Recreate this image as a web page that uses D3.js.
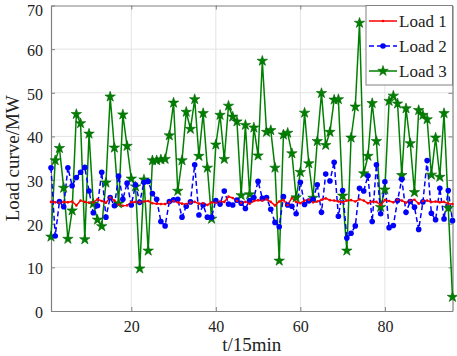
<!DOCTYPE html>
<html>
<head>
<meta charset="utf-8">
<script src="https://cdn.jsdelivr.net/npm/d3@7"></script>
<style>
  body { margin: 0; background: #fff; }
  svg text { font-family: "Liberation Serif", "Times New Roman", serif; fill: #222; }
</style>
</head>
<body>
<div id="chart"></div>
<script>
// chart values
var seriesNames = ["Load 1", "Load 2", "Load 3"];
var xTicks = [20, 40, 60, 80];
var yTicks = [0, 10, 20, 30, 40, 50, 60, 70];

var load1 = [25.0,24.9,24.8,25.0,24.9,25.1,24.2,25.3,25.0,24.8,24.9,25.6,25.2,24.8,26.0,25.3,
  24.4,24.1,24.2,24.9,25.0,24.9,25.1,25.2,24.7,24.6,24.5,24.5,24.9,25.2,24.9,24.6,
  24.5,24.9,25.0,24.6,24.7,24.3,24.9,24.8,25.1,25.0,26.2,25.9,25.2,24.8,25.0,24.6,
  25.2,25.4,25.3,25.6,25.0,24.2,25.1,25.4,24.3,25.9,25.0,24.7,25.3,25.5,24.9,25.1,
  25.5,25.8,25.4,25.3,25.1,24.9,25.3,25.4,25.1,25.6,25.3,24.7,25.1,25.0,24.3,25.4,
  25.2,24.9,25.5,25.3,24.8,25.3,25.5,24.6,25.2,25.3,25.0,25.1,24.9,25.0,24.6,24.5];

var load2 = [32.8,17.2,25.1,23.9,32.8,28.7,30.6,31.8,32.9,27.5,22.5,24.1,31.8,21.5,26.0,24.1,
  30.9,25.6,29.3,24.3,28.9,24.9,29.5,29.7,26.9,25.6,20.5,19.5,25.1,25.5,25.6,21.5,
  24.0,25.0,33.5,22.0,24.3,21.5,21.5,25.3,24.5,27.5,24.5,24.3,25.4,24.7,23.5,25.3,
  26.0,29.7,25.8,26.0,23.3,20.3,19.3,26.2,24.3,24.0,22.3,29.5,24.4,25.2,25.6,28.9,
  22.6,31.4,29.8,34.1,21.7,27.6,16.7,17.8,19.5,28.1,27.5,31.0,20.5,33.5,22.3,29.6,
  19.1,19.6,25.3,30.2,22.6,25.1,23.8,18.7,25.0,34.5,22.4,20.9,28.1,21.1,27.6,20.7];

var load3 = [17.0,34.5,37.3,28.2,16.5,23.0,45.1,43.0,16.4,40.6,24.6,20.9,19.4,29.4,49.1,37.4,
  24.6,45.0,37.8,30.3,28.5,9.7,30.1,13.8,34.5,34.5,34.7,34.8,40.2,47.7,27.5,34.5,
  45.6,41.7,48.5,35.5,45.3,32.8,21.1,38.1,44.9,34.8,47.0,44.5,43.4,26.5,42.6,26.7,
  42.0,35.6,57.3,41.0,41.4,32.8,11.5,40.4,40.8,36.1,26.0,31.8,45.4,33.8,25.9,38.9,
  49.9,38.0,41.0,48.4,48.5,26.4,13.8,39.7,46.8,66.0,31.5,35.5,47.6,38.9,23.8,27.8,
  48.1,49.3,47.5,31.1,46.4,38.4,27.2,46.0,44.9,43.9,31.2,39.7,30.7,45.3,23.6,3.2];

var t = d3.range(1, 97);

var margin = { top: 5.5, right: 4.5, bottom: 45, left: 51 };
var W = 457, H = 356;
var width = W - margin.left - margin.right,
    height = H - margin.top - margin.bottom;

var svg = d3.select("#chart").append("svg")
    .attr("width", W)
    .attr("height", H);
var g = svg.append("g")
    .attr("transform", "translate(" + margin.left + "," + margin.top + ")");

var x = d3.scaleLinear().domain([1, 96]).range([0, width]);
var y = d3.scaleLinear().domain([0, 70]).range([height, 0]);

// grid
g.append("g").selectAll("line").data(xTicks).enter().append("line")
    .attr("x1", d => x(d)).attr("x2", d => x(d))
    .attr("y1", 0).attr("y2", height)
    .attr("stroke", "#e3e3e3").attr("stroke-width", 1);
g.append("g").selectAll("line").data(yTicks.slice(1, -1)).enter().append("line")
    .attr("y1", d => y(d)).attr("y2", d => y(d))
    .attr("x1", 0).attr("x2", width)
    .attr("stroke", "#e3e3e3").attr("stroke-width", 1);

// axes, MATLAB-like inward ticks
var xAxis = d3.axisBottom(x).tickValues(xTicks).tickSizeInner(-4).tickSizeOuter(0).tickPadding(10);
var yAxis = d3.axisLeft(y).tickValues(yTicks).tickSizeInner(-4).tickSizeOuter(0).tickPadding(8);

var xg = g.append("g").attr("transform", "translate(0," + height + ")").call(xAxis);
var yg = g.append("g").call(yAxis);
var xt = g.append("g").call(d3.axisTop(x).tickValues(xTicks).tickSizeInner(-4).tickSizeOuter(0).tickFormat(""));
var yr = g.append("g").attr("transform", "translate(" + width + ",0)")
    .call(d3.axisRight(y).tickValues(yTicks).tickSizeInner(-4).tickSizeOuter(0).tickFormat(""));

[xg, yg, xt, yr].forEach(a => {
  a.select(".domain").attr("stroke", "#808080").attr("stroke-width", 1.2);
  a.selectAll(".tick line").attr("stroke", "#808080");
  a.selectAll("text").style("font-size", "16px").attr("fill", "#222");
});
// keep the top label inside the window
yg.selectAll("text").attr("dy", d => d == 70 ? "0.6em" : "0.4em");

// lines
var line = (arr) => d3.line().x((d, i) => x(t[i])).y(d => y(d))(arr);

g.append("path").attr("d", line(load3))
    .attr("fill", "none").attr("stroke", "#008000").attr("stroke-width", 1.5);
g.append("path").attr("d", line(load2))
    .attr("fill", "none").attr("stroke", "#0000ff").attr("stroke-width", 1.5)
    .attr("stroke-dasharray", "5,3");
g.append("path").attr("d", line(load1))
    .attr("fill", "none").attr("stroke", "#ff0000").attr("stroke-width", 1.5);

// markers
var star = d3.symbol().type(d3.symbolStar).size(34);
g.append("g").selectAll("path").data(load3).enter().append("path")
    .attr("d", star)
    .attr("transform", (d, i) => "translate(" + x(t[i]) + "," + y(d) + ")")
    .attr("fill", "#008000").attr("stroke", "#006400").attr("stroke-width", 0.6);
g.append("g").selectAll("circle").data(load2).enter().append("circle")
    .attr("cx", (d, i) => x(t[i])).attr("cy", d => y(d)).attr("r", 2.8)
    .attr("fill", "#0000ff");
g.append("g").selectAll("circle").data(load1).enter().append("circle")
    .attr("cx", (d, i) => x(t[i])).attr("cy", d => y(d)).attr("r", 1.3)
    .attr("fill", "#ff0000");

// axis labels
svg.append("text")
    .attr("x", margin.left + width / 2).attr("y", 351)
    .attr("text-anchor", "middle").style("font-size", "19px")
    .text("t/15min");
svg.append("text")
    .attr("transform", "translate(19," + (margin.top + height / 2) + ") rotate(-90)")
    .attr("text-anchor", "middle").style("font-size", "19px")
    .text("Load curve/MW");

// legend
var lg = g.append("g").attr("transform", "translate(" + (width - 86.5) + ",0)");
lg.append("rect").attr("width", 86.5).attr("height", 79.5)
    .attr("fill", "#fff").attr("stroke", "#808080").attr("stroke-width", 1);
var colors = ["#ff0000", "#0000ff", "#008000"];
seriesNames.forEach((name, i) => {
  var yy = 15.5 + i * 25;
  lg.append("line").attr("x1", 3).attr("x2", 31).attr("y1", yy).attr("y2", yy)
    .attr("stroke", colors[i]).attr("stroke-width", 1.5)
    .attr("stroke-dasharray", i == 1 ? "5,3" : null);
  if (i == 0) {
    lg.append("circle").attr("cx", 17).attr("cy", yy).attr("r", 1.3).attr("fill", colors[i]);
  } else if (i == 1) {
    lg.append("circle").attr("cx", 17).attr("cy", yy).attr("r", 2.8).attr("fill", colors[i]);
  } else {
    lg.append("path").attr("d", star).attr("transform", "translate(17," + yy + ")")
      .attr("fill", colors[i]).attr("stroke", "#006400").attr("stroke-width", 0.6);
  }
  lg.append("text").attr("x", 33).attr("y", yy + 6)
    .style("font-size", "17px").text(name);
});
</script>
</body>
</html>
